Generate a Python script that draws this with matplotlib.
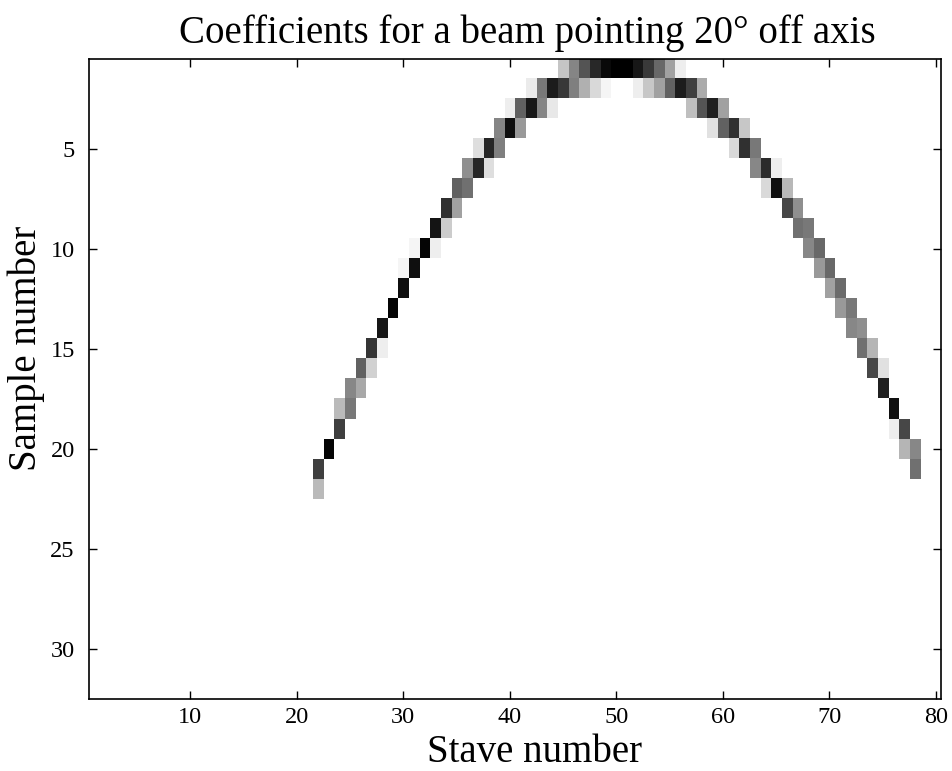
import numpy as np
import matplotlib
matplotlib.use("Agg")
import matplotlib.pyplot as plt

plt.rcParams['font.family'] = ['Liberation Serif', 'DejaVu Serif']

n_samples = 32
n_staves = 80

# stave number, first sample row hit, weight on that row, weight on the next row
staves = [22, 23, 24, 25, 26, 27, 28, 29, 30, 31, 32, 33, 34, 35, 36, 37, 38, 39, 40,
          41, 42, 43, 44, 45, 46, 47, 48, 49, 50, 51, 52, 53, 54, 55, 56, 57, 58, 59,
          60, 61, 62, 63, 64, 65, 66, 67, 68, 69, 70, 71, 72, 73, 74, 75, 76, 77, 78]
first_row = [21, 20, 18, 17, 16, 15, 14, 13, 11, 10, 10, 9, 8, 7, 6, 5, 5, 4, 3,
             3, 2, 2, 2, 1, 1, 1, 1, 1, 1, 1, 1, 1, 1, 1, 1, 2, 2, 3,
             3, 4, 4, 5, 6, 6, 7, 8, 9, 10, 11, 12, 13, 14, 15, 16, 18, 19, 20]
w_upper = [0.75, 0.98, 0.27, 0.47, 0.62, 0.79, 0.91, 0.98, 0.04, 0.04, 0.98, 0.92, 0.81, 0.62, 0.44, 0.13, 0.85, 0.48, 0.07,
           0.62, 0.08, 0.52, 0.89, 0.23, 0.48, 0.67, 0.84, 0.96, 1.00, 1.00, 0.91, 0.77, 0.59, 0.37, 0.07, 0.75, 0.33, 0.87,
           0.37, 0.81, 0.22, 0.53, 0.83, 0.07, 0.28, 0.44, 0.53, 0.59, 0.59, 0.58, 0.53, 0.44, 0.29, 0.12, 0.93, 0.72, 0.47]
w_lower = [0.27, 0.00, 0.75, 0.53, 0.34, 0.18, 0.07, 0.00, 0.94, 0.94, 0.00, 0.07, 0.20, 0.37, 0.56, 0.85, 0.13, 0.50, 0.94,
           0.40, 0.90, 0.48, 0.09, 0.78, 0.50, 0.31, 0.15, 0.04, 0.00, 0.00, 0.07, 0.22, 0.37, 0.62, 0.89, 0.25, 0.67, 0.12,
           0.62, 0.15, 0.81, 0.47, 0.15, 0.94, 0.72, 0.56, 0.47, 0.40, 0.37, 0.40, 0.47, 0.56, 0.72, 0.87, 0.07, 0.29, 0.56]

coef = np.zeros((n_samples, n_staves))
for s, r, a, b in zip(staves, first_row, w_upper, w_lower):
    coef[r - 1, s - 1] = a
    coef[r, s - 1] = b

fig = plt.figure(figsize=(9.53, 7.71), dpi=100)
ax = fig.add_axes([0.0931, 0.0934, 0.8947, 0.8307])
ax.imshow(coef, cmap='gray_r', vmin=0, vmax=1, aspect='auto',
          interpolation='nearest', extent=[0.5, n_staves + 0.5, n_samples + 0.5, 0.5])

ax.set_xticks([10, 20, 30, 40, 50, 60, 70, 80])
ax.set_yticks([5, 10, 15, 20, 25, 30])
ax.tick_params(direction='in', top=True, right=True, length=6, width=1,
               labelsize=17.5)
ax.tick_params(axis='x', pad=6)
ax.tick_params(axis='y', pad=10)
for sp in ax.spines.values():
    sp.set_linewidth(1.2)

ax.set_title('Coefficients for a beam pointing 20° off axis', fontsize=28, pad=11, x=0.514)
ax.set_xlabel('Stave number', fontsize=28)
ax.xaxis.set_label_coords(0.523, -0.098)
ax.xaxis.label.set_va('baseline')
ax.set_ylabel('Sample number', fontsize=28, labelpad=4)
ax.yaxis.label.set_y(0.547)

fig.savefig('out.png', dpi=100)
